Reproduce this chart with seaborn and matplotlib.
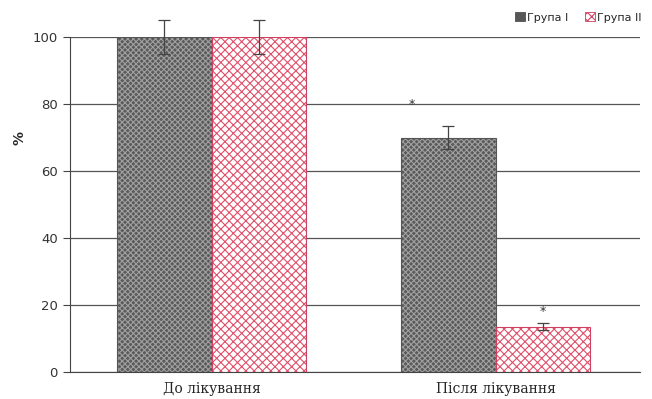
import pandas as pd
import matplotlib.pyplot as plt
import matplotlib as mpl
import seaborn as sns

categories = ['До лікування', 'Після лікування']
groups = ['Група I', 'Група II']
group1_vals = [100, 70]
group2_vals = [100, 13.5]
group1_err = [5, 3.5]
group2_err = [5, 1]
star1 = [None, 78]
star2 = [None, 16]

df = pd.DataFrame({
    'cat': categories * 2,
    'group': [groups[0]] * 2 + [groups[1]] * 2,
    'val': group1_vals + group2_vals,
    'err': group1_err + group2_err,
    'star': star1 + star2,
})

sns.set_style('white')
plt.rcParams['font.family'] = ['DejaVu Sans']
mpl.rcParams['hatch.linewidth'] = 0.8

fig, ax = plt.subplots(figsize=(6.52, 3.99), dpi=100)
sns.barplot(data=df, x='cat', y='val', hue='group', ax=ax, width=0.665,
            palette=['#5a5a5a', 'white'], edgecolor='#333333', linewidth=0.6,
            errorbar=None, legend=True)

hatch_cols = ['#a0a0a0', '#e0506a']
hatches = ['xxxxxx', 'xxxx']
outline_cols = ['#555555', '#d04060']
bar_conts = list(ax.containers)
for gi, cont in enumerate(bar_conts):
    for bar in cont:
        bar.set_hatch(hatches[gi])
        bar.set_edgecolor(hatch_cols[gi])
        bar.set_linewidth(0)
        # outline on top of hatch
        ax.add_patch(plt.Rectangle((bar.get_x(), 0), bar.get_width(), bar.get_height(),
                                   fill=False, edgecolor=outline_cols[gi],
                                   linewidth=0.8, zorder=3))
    sub = df[df['group'] == groups[gi]]
    xs = [b.get_x() + b.get_width() / 2 for b in cont]
    ax.errorbar(xs, sub['val'], yerr=sub['err'], fmt='none', ecolor='#444444',
                elinewidth=0.9, capsize=4, capthick=0.9, clip_on=False, zorder=4)
    for x, s in zip(xs, sub['star']):
        if pd.notna(s):
            xx = x - 0.13 if gi == 0 else x
            ax.text(xx, s, '*', ha='center', va='bottom', fontsize=9, color='#333333')

ax.set_ylim(0, 100)
ax.set_xlim(-0.5, 1.51)
ax.set_yticks([0, 20, 40, 60, 80, 100])
ax.yaxis.grid(True, color='#555555', linewidth=0.9)
ax.set_axisbelow(True)
for s in ['top', 'right']:
    ax.spines[s].set_visible(False)
ax.spines['left'].set_color('#444444')
ax.spines['bottom'].set_color('#444444')
ax.tick_params(axis='y', left=True, length=5, color='#444444', labelsize=9.5, labelcolor='#333333')
ax.tick_params(axis='x', bottom=False, labelsize=10)
for lbl in ax.get_xticklabels():
    lbl.set_family('DejaVu Serif')
ax.set_xlabel('')
ax.set_ylabel('%', fontsize=10, fontweight='bold')
ax.yaxis.set_label_coords(-0.075, 0.7)

handles, labels = ax.get_legend_handles_labels()
leg = ax.legend(handles, labels, loc='lower right', bbox_to_anchor=(1.01, 1.03), ncol=2,
                frameon=False, fontsize=8, handlelength=0.9, handleheight=0.9,
                handletextpad=0.2, columnspacing=1.5, borderaxespad=0)
for h, hc, ht, oc in zip(leg.get_patches(), hatch_cols, hatches, outline_cols):
    h.set_hatch(ht)
    h.set_edgecolor(oc)

plt.subplots_adjust(left=0.107, right=0.982, top=0.907, bottom=0.068)
plt.savefig('out.png', dpi=100)
